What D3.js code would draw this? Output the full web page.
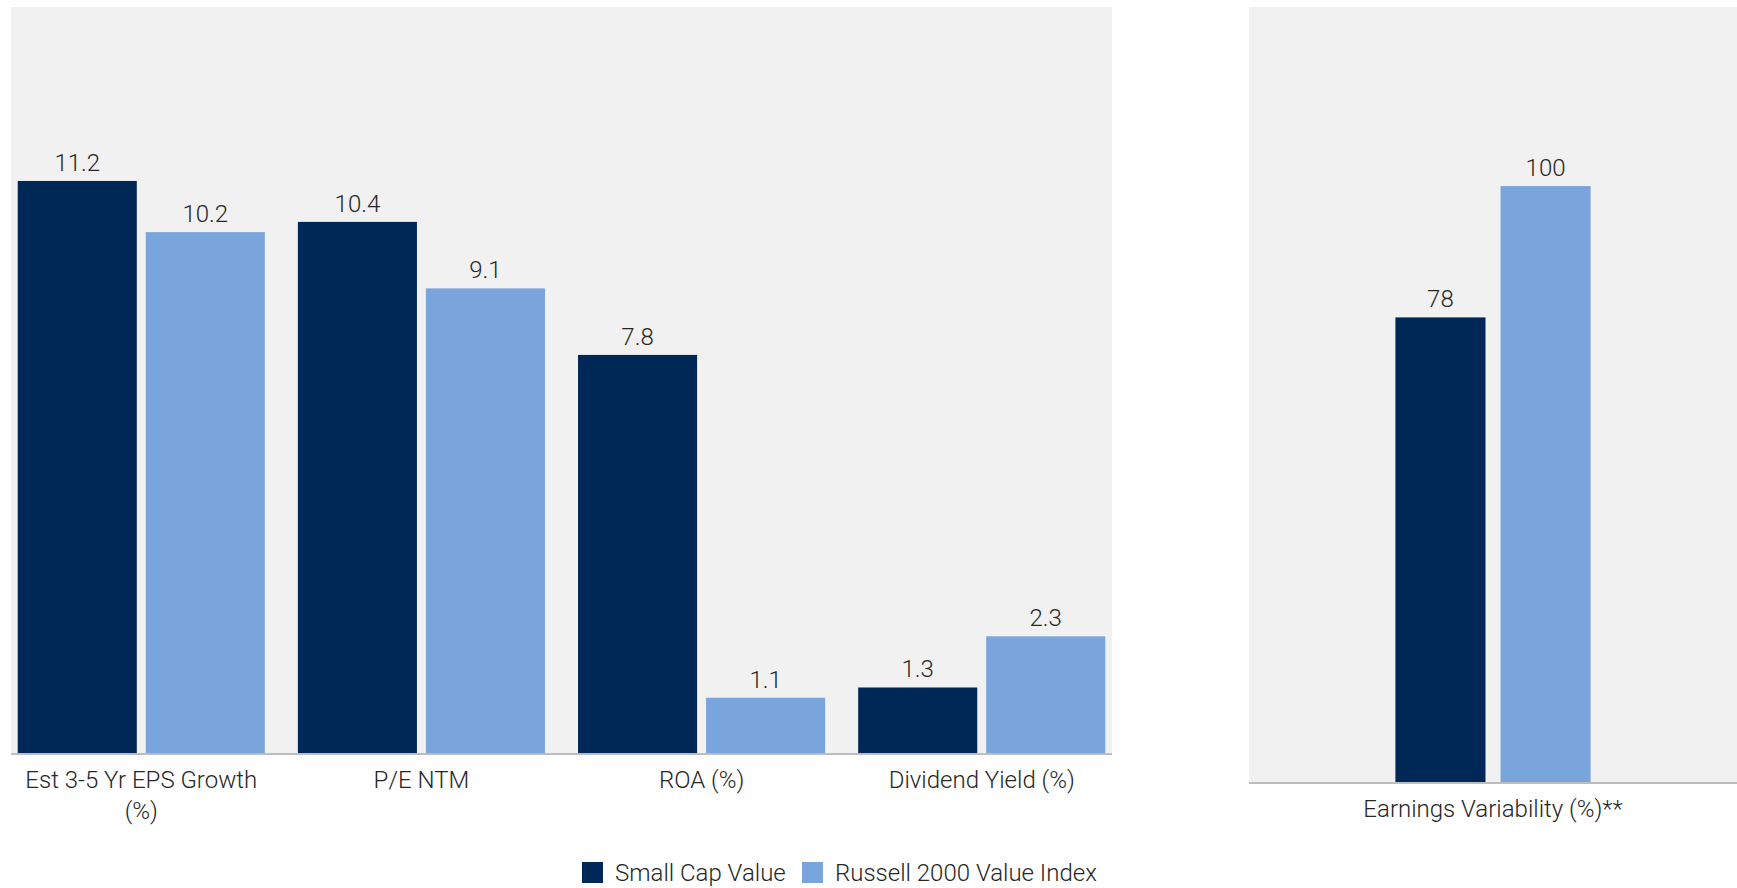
<!DOCTYPE html>
<html>
<head>
<meta charset="utf-8">
<script src="https://cdn.jsdelivr.net/npm/d3@7"></script>
<style>
  body { margin: 0; background: #fff; }
  text { font-family: Roboto, "Liberation Sans", Arial, sans-serif; font-weight: 300; fill: #262626; }
</style>
</head>
<body>
<svg id="chart" width="1737" height="888"></svg>
<script>
// data
const seriesNames = ['Small Cap Value', 'Russell 2000 Value Index'];
const seriesColors = ['#002856', '#7aa5dc'];

const leftCategories = ['Est 3-5 Yr EPS Growth (%)', 'P/E NTM', 'ROA (%)', 'Dividend Yield (%)'];
const leftSmallCap = [11.2, 10.4, 7.8, 1.3];
const leftRussell = [10.2, 9.1, 1.1, 2.3];

const rightCategories = ['Earnings Variability (%)**'];
const rightSmallCap = [78];
const rightRussell = [100];

const svg = d3.select('#chart');

function drawPanel(opts) {
    const { x0, x1, top, bottom, categories, values, yMax, outerPad, innerPad, groupPad, labelWidth } = opts;

    const rows = categories.map((c, i) => ({ cat: c, vals: values.map(v => v[i]) }));

    const x = d3.scaleBand()
        .domain(categories)
        .range([x0, x1])
        .paddingInner(groupPad)
        .paddingOuter(outerPad);

    const xSub = d3.scaleBand()
        .domain(d3.range(seriesNames.length))
        .range([0, x.bandwidth()])
        .paddingInner(innerPad);

    const y = d3.scaleLinear()
        .domain([0, yMax])
        .range([bottom, top]);

    // panel background
    svg.append('rect')
        .attr('x', x0)
        .attr('y', top)
        .attr('width', x1 - x0)
        .attr('height', bottom - top)
        .attr('fill', '#f1f1f1');

    const groups = svg.append('g')
        .selectAll('g')
        .data(rows)
        .join('g')
        .attr('transform', d => `translate(${x(d.cat)},0)`);

    groups.selectAll('rect')
        .data(d => d.vals.map((v, i) => ({ v, i })))
        .join('rect')
        .attr('x', d => xSub(d.i))
        .attr('y', d => y(d.v))
        .attr('width', xSub.bandwidth())
        .attr('height', d => y(0) - y(d.v))
        .attr('fill', d => seriesColors[d.i]);

    groups.selectAll('text.value')
        .data(d => d.vals.map((v, i) => ({ v, i })))
        .join('text')
        .attr('class', 'value')
        .attr('x', d => xSub(d.i) + xSub.bandwidth() / 2)
        .attr('y', d => y(d.v) - 10)
        .attr('text-anchor', 'middle')
        .style('font-size', '24px')
        .text(d => d.v);

    // baseline
    svg.append('line')
        .attr('x1', x0)
        .attr('x2', x1)
        .attr('y1', y(0))
        .attr('y2', y(0))
        .attr('stroke', '#bdbdbd')
        .attr('stroke-width', 2);

    // category labels
    const xAxis = d3.axisBottom(x).tickSize(0).tickPadding(0);
    const axisG = svg.append('g')
        .attr('transform', `translate(0,${y(0) + 1})`)
        .call(xAxis);
    axisG.select('.domain').remove();
    axisG.selectAll('text')
        .attr('y', 33)
        .attr('dy', 0)
        .style('font-size', '24px')
        .style('font-family', null)
        .attr('fill', null)
        .call(wrap, labelWidth || x.bandwidth());
}

function wrap(sel, width) {
    sel.each(function () {
        const text = d3.select(this);
        const words = text.text().split(/\s+/);
        const yPos = text.attr('y');
        text.text(null);
        let line = [];
        let lineNo = 0;
        let tspan = text.append('tspan').attr('x', 0).attr('y', yPos);
        words.forEach(w => {
            line.push(w);
            tspan.text(line.join(' '));
            if (tspan.node().getComputedTextLength() > width && line.length > 1) {
                line.pop();
                tspan.text(line.join(' '));
                line = [w];
                lineNo++;
                tspan = text.append('tspan')
                    .attr('x', 0)
                    .attr('y', yPos)
                    .attr('dy', lineNo * 31)
                    .text(w);
            }
        });
    });
}

drawPanel({
    x0: 11, x1: 1112, top: 7, bottom: 754,
    categories: leftCategories,
    values: [leftSmallCap, leftRussell],
    yMax: 14.6,
    groupPad: 0.118, outerPad: 0.024, innerPad: 0.07,
    labelWidth: 262
});

drawPanel({
    x0: 1249, x1: 1737, top: 7, bottom: 783,
    categories: rightCategories,
    values: [rightSmallCap, rightRussell],
    yMax: 130,
    groupPad: 0, outerPad: 0.75, innerPad: 0.143,
    labelWidth: 460
});

// legend
const legend = svg.append('g').attr('transform', 'translate(582,862)');
const legendX = [0, 220];
seriesNames.forEach((name, i) => {
    const item = legend.append('g').attr('transform', `translate(${legendX[i]},0)`);
    item.append('rect')
        .attr('width', 21)
        .attr('height', 21)
        .attr('fill', seriesColors[i]);
    item.append('text')
        .attr('x', 33)
        .attr('y', 19)
        .style('font-size', '24px')
        .text(name);
});
</script>
</body>
</html>
